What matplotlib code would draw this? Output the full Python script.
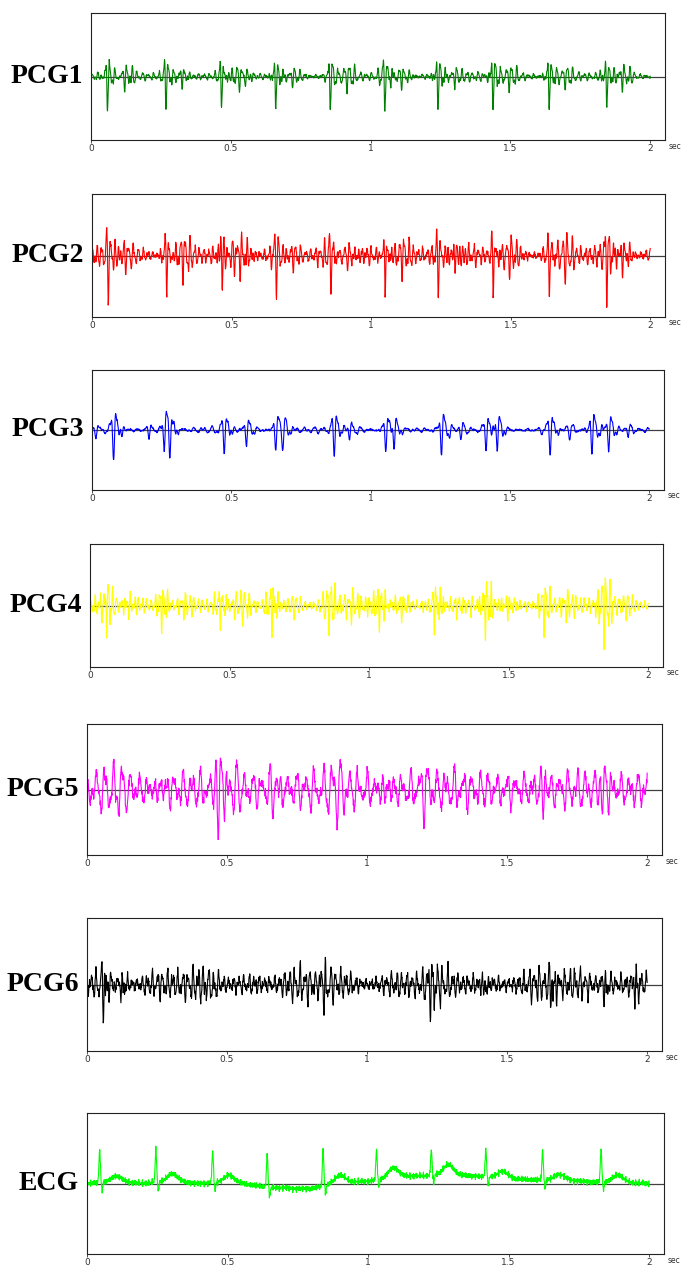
import numpy as np
import matplotlib.pyplot as plt

# =========================
# DATA
# =========================
FS = 1000
t = np.arange(0, 2.0005, 1 / FS)

labels = ["PCG1", "PCG2", "PCG3", "PCG4", "PCG5", "PCG6", "ECG"]
colors = ["#008000", "#ff0000", "#0000ff", "#ffff00",
          "#ff00ff", "#000000", "#00ff00"]

x_ticks = [0, 0.5, 1, 1.5, 2]
x_tick_labels = ["0", "0.5", "1", "1.5", "2"]

# S1 spike times (s), PCG1 / PCG2
s1_times = [0.058, 0.267, 0.466, 0.660, 0.855, 1.050, 1.240, 1.437, 1.638, 1.844]
s2_times = [0.135, 0.340, 0.545, 0.735, 0.930, 1.125, 1.315, 1.510, 1.710, 1.915]

# amplitudes in units of half the panel height
pcg1_up = [0.27, 0.27, 0.24, 0.24, 0.24, 0.28, 0.27, 0.25, 0.24, 0.25]
pcg1_down = [-0.37, -0.34, -0.36, -0.39, -0.37, -0.40, -0.38, -0.37, -0.38, -0.40]
pcg1_s2 = [0.15, 0.13, 0.15, 0.13, 0.15, 0.13, 0.14, 0.15, 0.13, 0.15]

pcg2_up = [0.38, 0.47, 0.42, 0.43, 0.40, 0.38, 0.38, 0.38, 0.38, 0.42]
pcg2_down = [-0.49, -0.40, -0.39, -0.38, -0.39, -0.50, -0.39, -0.43, -0.46, -0.49]
pcg2_s2 = [0.24, 0.22, 0.24, 0.20, 0.24, 0.24, 0.22, 0.24, 0.26, 0.24]

pcg3_times = [0.020, 0.083, 0.210, 0.265, 0.285, 0.480, 0.560, 0.665, 0.690,
              0.875, 0.930, 1.060, 1.090, 1.260, 1.330, 1.420, 1.460, 1.650,
              1.720, 1.800, 1.860, 1.930]
pcg3_amps = [0.08, 0.32, 0.10, 0.22, 0.24, 0.26, 0.18, 0.22, 0.20,
             0.28, 0.12, 0.22, 0.16, 0.27, 0.09, 0.22, 0.24, 0.27,
             0.09, 0.27, 0.24, 0.08]

pcg4_times = [0.063, 0.260, 0.470, 0.655, 0.860, 1.040, 1.237, 1.420, 1.630, 1.845]
pcg4_amps = [0.30, 0.27, 0.28, 0.31, 0.27, 0.33, 0.34, 0.42, 0.31, 0.38]
pcg4_s2 = [0.16, 0.14, 0.16, 0.15, 0.16, 0.14, 0.16, 0.18, 0.16, 0.16]

pcg5_times = [0.060, 0.120, 0.257, 0.475, 0.530, 0.670, 0.870, 0.900, 1.070,
              1.210, 1.450, 1.634, 1.847]
pcg5_amps = [0.26, 0.28, 0.36, 0.70, 0.34, 0.28, 0.20, 0.22, 0.28,
             0.22, 0.28, 0.32, 0.34]

pcg6_times = [0.062, 0.125, 0.450, 0.850, 1.230, 1.420, 1.660, 1.850, 1.960]
pcg6_amps = [0.42, 0.34, 0.24, 0.38, 0.32, 0.26, 0.34, 0.32, 0.30]

# ECG
r_times = [0.045, 0.245, 0.447, 0.641, 0.840, 1.030, 1.225, 1.419, 1.621, 1.829]
r_heights = [0.47, 0.46, 0.45, 0.47, 0.52, 0.42, 0.36, 0.39, 0.42, 0.46]
t_wave_amps = [0.08, 0.10, 0.09, 0.02, 0.10, 0.13, 0.14, 0.10, 0.08, 0.10]
baseline_t = [0.0, 0.1, 0.2, 0.3, 0.4, 0.5, 0.6, 0.7, 0.8, 0.9, 1.0,
              1.1, 1.2, 1.3, 1.4, 1.5, 1.6, 1.7, 1.8, 1.9, 2.0]
baseline_v = [0.0, 0.03, 0.0, 0.04, 0.0, 0.03, -0.03, -0.08, -0.07, 0.02, 0.03,
              0.10, 0.11, 0.13, 0.10, 0.07, 0.05, 0.05, 0.02, 0.02, 0.0]

# panel boxes in pixels (left, top, right, bottom)
panel_px = [(91, 13, 665, 140), (92, 194, 665, 317), (92, 370, 664, 490),
            (90, 544, 663, 667), (87, 724, 662, 855), (87, 918, 662, 1051),
            (87, 1113, 664, 1254)]


# =========================
# SIGNAL HELPERS
# =========================
def carrier(x, f, ph=0.0):
    return (0.5 * np.sin(2 * np.pi * f * x + ph)
            + 0.3 * np.sin(2 * np.pi * 1.618 * f * x + 0.7 + ph)
            + 0.2 * np.sin(2 * np.pi * 2.414 * f * x + 1.9 + 2 * ph))


def jitter(level, ph):
    return level * (np.sin(2 * np.pi * 311 * t + ph)
                    + 0.8 * np.sin(2 * np.pi * 397 * t + 2 * ph)
                    + 0.6 * np.sin(2 * np.pi * 229 * t + 3 * ph)
                    + 0.5 * np.sin(2 * np.pi * 457 * t + 1.3)) / 2.0


def burst(t0, amp, width, f):
    env = np.exp(-0.5 * ((t - t0) / width) ** 2)
    return amp * env * carrier(t - t0, f) / 0.6


def spike(t0, amp, width=0.0012):
    return amp * np.exp(-0.5 * ((t - t0) / width) ** 2)


def background(level, f, ph, depth=1.0):
    mod = 1 + depth * (-0.4 + 0.25 * np.sin(2 * np.pi * 2.3 * t + ph)
                       + 0.15 * np.sin(2 * np.pi * 5.9 * t + 2 * ph))
    return level * mod * carrier(t, f, ph) / 0.6


# =========================
# BUILD SIGNALS
# =========================
signals = []

y = background(0.06, 50, 0.2) + jitter(0.012, 0.3)
for t0, up, dn, s2, t2 in zip(s1_times, pcg1_up, pcg1_down, pcg1_s2, s2_times):
    y += burst(t0 + 0.006, up * 0.8, 0.016, 60)
    y += spike(t0 - 0.004, up * 0.5) + spike(t0, dn)
    y += burst(t2 - 0.01, s2, 0.022, 55)
signals.append(y)

y = background(0.15, 60, 1.1) + jitter(0.025, 0.9)
for t0, up, dn, s2, t2 in zip(s1_times, pcg2_up, pcg2_down, pcg2_s2, s2_times):
    y += burst(t0 + 0.005, up * 0.6, 0.016, 64)
    y += spike(t0 - 0.005, up * 0.6) + spike(t0, dn)
    y += burst(t2 - 0.01, s2, 0.025, 58)
signals.append(y)

y = background(0.045, 30, 2.0) + jitter(0.01, 1.4)
for t0, a in zip(pcg3_times, pcg3_amps):
    y += burst(t0, a, 0.016, 40)
signals.append(y)

y = background(0.13, 65, 0.5) + jitter(0.02, 2.2)
for t0, a, s2 in zip(pcg4_times, pcg4_amps, pcg4_s2):
    y += burst(t0, a, 0.018, 70)
    y += burst(t0 + 0.08, s2, 0.022, 66)
signals.append(y)

y = background(0.24, 32, 1.7, depth=0.4) + jitter(0.06, 0.6)
for t0, a in zip(pcg5_times, pcg5_amps):
    y += burst(t0, a * 0.8, 0.02, 35)
signals.append(y)

y = background(0.22, 55, 2.6) + jitter(0.045, 1.9)
for t0, a in zip(pcg6_times, pcg6_amps):
    y += burst(t0, a * 0.6, 0.015, 60)
    y += spike(t0 + 0.004, -a * 0.8)
signals.append(y)

y = np.interp(t, baseline_t, baseline_v) + jitter(0.04, 0.4)
for t0, h, ta in zip(r_times, r_heights, t_wave_amps):
    y += spike(t0, h, 0.0025)
    y += spike(t0 + 0.009, -0.12, 0.002)
    y += spike(t0 + 0.06, ta, 0.018)
signals.append(y)

# =========================
# FIGURE
# =========================
W, H = 684, 1269
fig = plt.figure(figsize=(W / 100, H / 100), dpi=100)

for i in range(len(labels)):
    left, top, right, bottom = panel_px[i]
    ax = fig.add_axes([left / W, 1 - bottom / H,
                       (right - left) / W, (bottom - top) / H])

    ax.axhline(0, color="#404040", linewidth=0.9, zorder=1)
    ax.plot(t, signals[i], color=colors[i], linewidth=0.8, zorder=2)

    ax.set_xlim(0, 2.053)
    ax.set_ylim(-1, 1)
    ax.set_yticks([])
    ax.set_xticks(x_ticks)
    ax.set_xticklabels(x_tick_labels)
    ax.tick_params(axis="x", length=2, width=0.6, pad=1,
                   labelsize=6.5, labelcolor="#333333", color="#333333")

    for sp in ax.spines.values():
        sp.set_color("#222222")
        sp.set_linewidth(0.8)

    ax.text(1.006, -0.012, "sec", transform=ax.transAxes,
            ha="left", va="top", fontsize=5.5, color="#333333")

    ax.text(-8 / (right - left), 0.5, labels[i], transform=ax.transAxes,
            ha="right", va="center", fontsize=20, fontweight="bold",
            family="Liberation Serif")

fig.savefig("out.png", dpi=100)
